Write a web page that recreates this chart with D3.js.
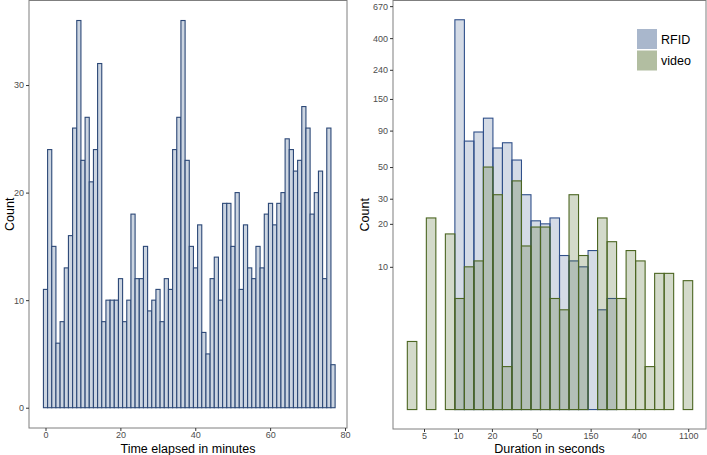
<!DOCTYPE html>
<html><head><meta charset="utf-8">
<script src="https://cdn.jsdelivr.net/npm/d3@7"></script>
<style>body{margin:0;background:#fff}svg text{font-family:"Liberation Sans",Arial,sans-serif}</style>
</head><body><svg id="c" width="707" height="455"></svg>
<script>
// ---- Left panel data: counts per time bin (minutes) ----
const elapsedCounts = [11,24,15,6,8,13,16,26,36,23,27,21,24,32,8,10,10,10,12,8,10,18,12,12,15,9,10,11,8,12,11,24,27,36,23,
  15,13,17,7,5,12,14,10,19,19,15,20,11,17,13,12,15,13,18,19,17,19,20,25,24,22,23,28,26,18,20,22,12,26,4];
const elapsedBinWidth = 1.113;
const elapsedXTicks = [0,20,40,60,80];
const elapsedYTicks = [0,10,20,30];

// ---- Right panel data: duration histogram (log10 bins) ----
const durBinStartLog = 0.551;
const durBinWidthLog = 0.08433;
const rfidCounts  = [0,0,0,0,0,538,76,88,110,68,74,56,32,21,20,22,12,11,10,13,5,6,0,0,0,0,0,0,0,0];
const videoCounts = [3,1,22,0,17,6,10,11,50,32,2,40,14,19,19,6,5,32,12,0,22,15,6,13,11,2,9,9,0,8];
const durXTicks = [5,10,20,50,150,400,1100];
const durYTicks = [10,20,30,50,90,150,240,400,670];
const seriesNames = ["RFID","video"];

const svg = d3.select("#c");
const borderCol = "#7f7f7f", tickCol = "#333", labCol = "#4d4d4d";
const blueStroke = "#30508a", blueBase = "#3c5a8c";
const greenStroke = "#4c6622", greenBase = "#506a2a";

function styleAxis(g){
  g.select(".domain").remove();
  g.selectAll(".tick line").attr("stroke", tickCol);
  g.selectAll(".tick text").attr("fill", labCol).style("font-size","9px");
}

// ===== Left panel =====
const L = {x0:29, x1:347, y0:0.5, y1:428};
const xL = d3.scaleLinear().domain([-4.41, 80.53]).range([L.x0, L.x1]);
const yL = d3.scaleLinear().domain([-1.886, 37.86]).range([L.y1, L.y0]);

const gL = svg.append("g");
gL.selectAll("rect.bar").data(elapsedCounts).join("rect")
  .attr("class","bar")
  .attr("x",(d,i)=>xL(i*elapsedBinWidth - elapsedBinWidth/2))
  .attr("width",xL(elapsedBinWidth)-xL(0))
  .attr("y",d=>yL(d))
  .attr("height",d=>yL(0)-yL(d))
  .attr("fill","#ccd5e1")
  .attr("stroke","#2c4877").attr("stroke-width",1.1);

gL.append("rect").attr("x",L.x0).attr("y",L.y0).attr("width",L.x1-L.x0).attr("height",L.y1-L.y0)
  .attr("fill","none").attr("stroke",borderCol).attr("stroke-width",1);

gL.append("g").attr("transform",`translate(${L.x0},0)`)
  .call(d3.axisLeft(yL).tickValues(elapsedYTicks).tickSize(3).tickPadding(2)).call(styleAxis);
gL.append("g").attr("transform",`translate(0,${L.y1})`)
  .call(d3.axisBottom(xL).tickValues(elapsedXTicks).tickSize(3).tickPadding(1)).call(styleAxis);

gL.append("text").attr("x",(L.x0+L.x1)/2).attr("y",452.5).attr("text-anchor","middle")
  .style("font-size","12.5px").attr("fill","#000").text("Time elapsed in minutes");
gL.append("text").attr("transform",`translate(14,${(L.y0+L.y1)/2}) rotate(-90)`).attr("text-anchor","middle")
  .style("font-size","12.5px").attr("fill","#000").text("Count");

// ===== Right panel =====
const R = {x0:393, x1:706, y0:0.5, y1:429};
const xR = d3.scaleLog().domain([2.655, 1581]).range([R.x0, R.x1]);
const yR = d3.scaleLog().domain([0.731, 734]).range([R.y1, R.y0]);
const gR = svg.append("g");

function drawSeries(counts, base, stroke, op){
  const data = counts.map((c,i)=>({c,i})).filter(d=>d.c>0);
  gR.append("g").selectAll("rect").data(data).join("rect")
    .attr("x",d=>xR(Math.pow(10, durBinStartLog + d.i*durBinWidthLog)))
    .attr("width",d=>xR(Math.pow(10, durBinStartLog + (d.i+1)*durBinWidthLog)) - xR(Math.pow(10, durBinStartLog + d.i*durBinWidthLog)))
    .attr("y",d=>yR(d.c))
    .attr("height",d=>yR(1)-yR(d.c))
    .attr("fill",base).attr("fill-opacity",op)
    .attr("stroke",stroke).attr("stroke-width",1.1);
}
drawSeries(rfidCounts, blueBase, blueStroke, 0.22);
drawSeries(videoCounts, greenBase, greenStroke, 0.25);

gR.append("rect").attr("x",R.x0).attr("y",R.y0).attr("width",R.x1-R.x0).attr("height",R.y1-R.y0)
  .attr("fill","none").attr("stroke",borderCol).attr("stroke-width",1);

gR.append("g").attr("transform",`translate(${R.x0},0)`)
  .call(d3.axisLeft(yR).tickValues(durYTicks).tickFormat(d3.format("d")).tickSize(3).tickPadding(2)).call(styleAxis);
gR.append("g").attr("transform",`translate(0,${R.y1})`)
  .call(d3.axisBottom(xR).tickValues(durXTicks).tickFormat(d3.format("d")).tickSize(3).tickPadding(1)).call(styleAxis);

gR.append("text").attr("x",(R.x0+R.x1)/2).attr("y",452.5).attr("text-anchor","middle")
  .style("font-size","12.5px").attr("fill","#000").text("Duration in seconds");
gR.append("text").attr("transform",`translate(369,${(R.y0+R.y1)/2}) rotate(-90)`).attr("text-anchor","middle")
  .style("font-size","12.5px").attr("fill","#000").text("Count");

// legend
const leg = gR.append("g").attr("transform","translate(637,29)");
const legCols = [blueBase, greenBase];
seriesNames.forEach((n,i)=>{
  leg.append("rect").attr("x",0).attr("y",i*21.5).attr("width",20).attr("height",20)
    .attr("fill",legCols[i]).attr("fill-opacity",0.44);
  leg.append("text").attr("x",24).attr("y",i*21.5+14.5).style("font-size","12.5px").attr("fill","#000").text(n);
});
</script></body></html>
